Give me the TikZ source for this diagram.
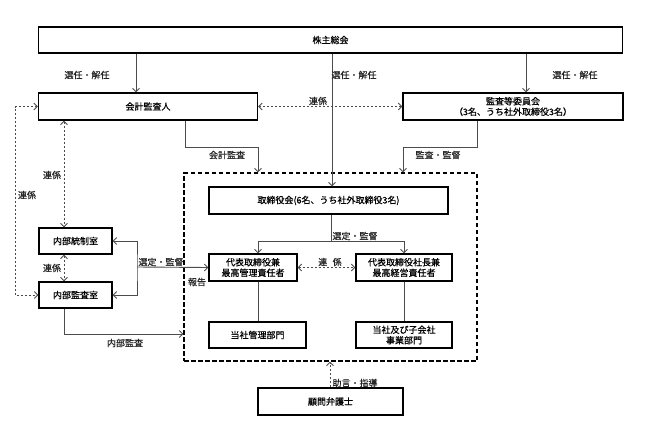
\documentclass[tikz,border=0pt]{standalone}
\usepackage{fontspec}
\setmainfont[FakeBold=0.6,AutoFakeBold=0.6]{Noto Sans CJK JP}
\usetikzlibrary{arrows.meta}
\begin{document}
\begin{tikzpicture}[x=1pt,y=-1pt,
  box/.style={draw=black, line width=1.1pt, minimum height=27pt, inner sep=0pt, align=center, font=\fontsize{9}{11}\selectfont\bfseries},
  conn/.style={draw=black!70, line width=0.9pt},
  arr/.style={-{Straight Barb[length=3.5pt,width=7pt]}},
  darr/.style={{Straight Barb[length=3.5pt,width=7pt]}-{Straight Barb[length=3.5pt,width=7pt]}},
  dsh/.style={dash pattern=on 2pt off 2pt},
  lbl/.style={font=\fontsize{9}{11}\selectfont\bfseries, inner sep=0pt, text=black!85}]
\useasboundingbox (0,0) rectangle (648,429);
% frame
\node[draw=black, line width=1.1pt, dash pattern=on 4.5pt off 2.5pt, inner sep=0pt, minimum width=293pt, minimum height=188pt] (frame) at (330.5,267) {};
% boxes
\node[box, minimum width=584pt, minimum height=26pt] (sh) at (330.5,40) {株主総会};
\node[box, minimum width=219pt] (kaikei) at (148,106.5) {会計監査人};
\node[box, minimum width=220pt, font=\fontsize{9}{10.5}\selectfont\bfseries] (kansa) at (513,106.5) {監査等委員会\\（3名、うち社外取締役3名）};
\node[box, minimum width=239pt] (tor) at (328.5,200.5) {取締役会(6名、うち社外取締役3名)};
\node[box, minimum width=88pt, font=\fontsize{9}{10.5}\selectfont\bfseries] (d1) at (253,267.5) {代表取締役兼\\最高管理責任者};
\node[box, minimum width=96pt, font=\fontsize{9}{10.5}\selectfont\bfseries] (d2) at (404,267.5) {代表取締役社長兼\\最高経営責任者};
\node[box, minimum width=97pt, minimum height=26pt] (kanri) at (257.5,335) {当社管理部門};
\node[box, minimum width=96pt, minimum height=26pt, font=\fontsize{9}{10.5}\selectfont\bfseries] (jigyo) at (404,335) {当社及び子会社\\事業部門};
\node[box, minimum width=145pt] (ben) at (330.5,401.5) {顧問弁護士};
\node[box, minimum width=73pt, minimum height=26pt] (tousei) at (75.5,241) {内部統制室};
\node[box, minimum width=73pt, minimum height=26pt] (nkansa) at (75.5,295) {内部監査室};
% connectors
\draw[conn,arr] (sh.south -| 136,0) -- (kaikei.north -| 136,0);
\draw[conn,arr] (sh.south -| 332,0) -- (tor.north -| 332,0);
\draw[conn,arr] (sh.south -| 526,0) -- (kansa.north -| 526,0);
\draw[conn,dsh,darr] (kaikei.east) -- (kansa.west);
\draw[conn,arr] (kaikei.south -| 185,0) |- (258,147) -- (frame.north -| 258,0);
\draw[conn,arr] (kansa.south -| 477,0) |- (403,147) -- (frame.north -| 403,0);
\draw[conn] (tor.south -| 331,0) -- (331,241);
\draw[conn,arr] (331,241) -| (d2.north);
\draw[conn,arr] (331,241) -| (d1.north -| 258,0);
\draw[conn,dsh,darr] (d1.east) -- (d2.west);
\draw[conn] (d1.south -| 258,0) -- (kanri.north -| 258,0);
\draw[conn] (d2.south) -- (jigyo.north);
\draw[conn,dsh,arr] (ben.north -| 330,0) -- (frame.south -| 330,0);
\draw[conn,dsh,darr] (kaikei.south -| 64,0) -- (tousei.north -| 64,0);
\draw[conn,dsh,darr] (tousei.south -| 64,0) -- (nkansa.north -| 64,0);
\draw[conn,dsh,darr] (kaikei.west) -| (15,200) |- (nkansa.west);
\draw[conn,darr] (tousei.east) -| (137,267) |- (nkansa.east);
\draw[conn,arr] (137,267) -- (d1.west);
\draw[conn,arr] (nkansa.south -| 64,0) |- (frame.west |- 0,334);
% labels
\node[lbl] (l1) at (87,75) {選任・解任};
\node[lbl] (l2) at (354,75) {選任・解任};
\node[lbl] (l3) at (575,75) {選任・解任};
\node[lbl] (l4) at (318,101) {連係};
\node[lbl] (l5) at (227,155) {会計監査};
\node[lbl] (l6) at (438,155) {監査・監督};
\node[lbl] (l7) at (355,236) {選定・監督};
\node[lbl] (l8) at (330,262) {連\hspace{0.6em}係};
\node[lbl] (l9) at (161,262) {選定・監督};
\node[lbl] (l10) at (197,282) {報告};
\node[lbl] (l11) at (52,268) {連係};
\node[lbl] (l12) at (52,175) {連係};
\node[lbl] (l13) at (27,195) {連係};
\node[lbl] (l14) at (125,343) {内部監査};
\node[lbl] (l15) at (355,383) {助言・指導};
\end{tikzpicture}
\end{document}
